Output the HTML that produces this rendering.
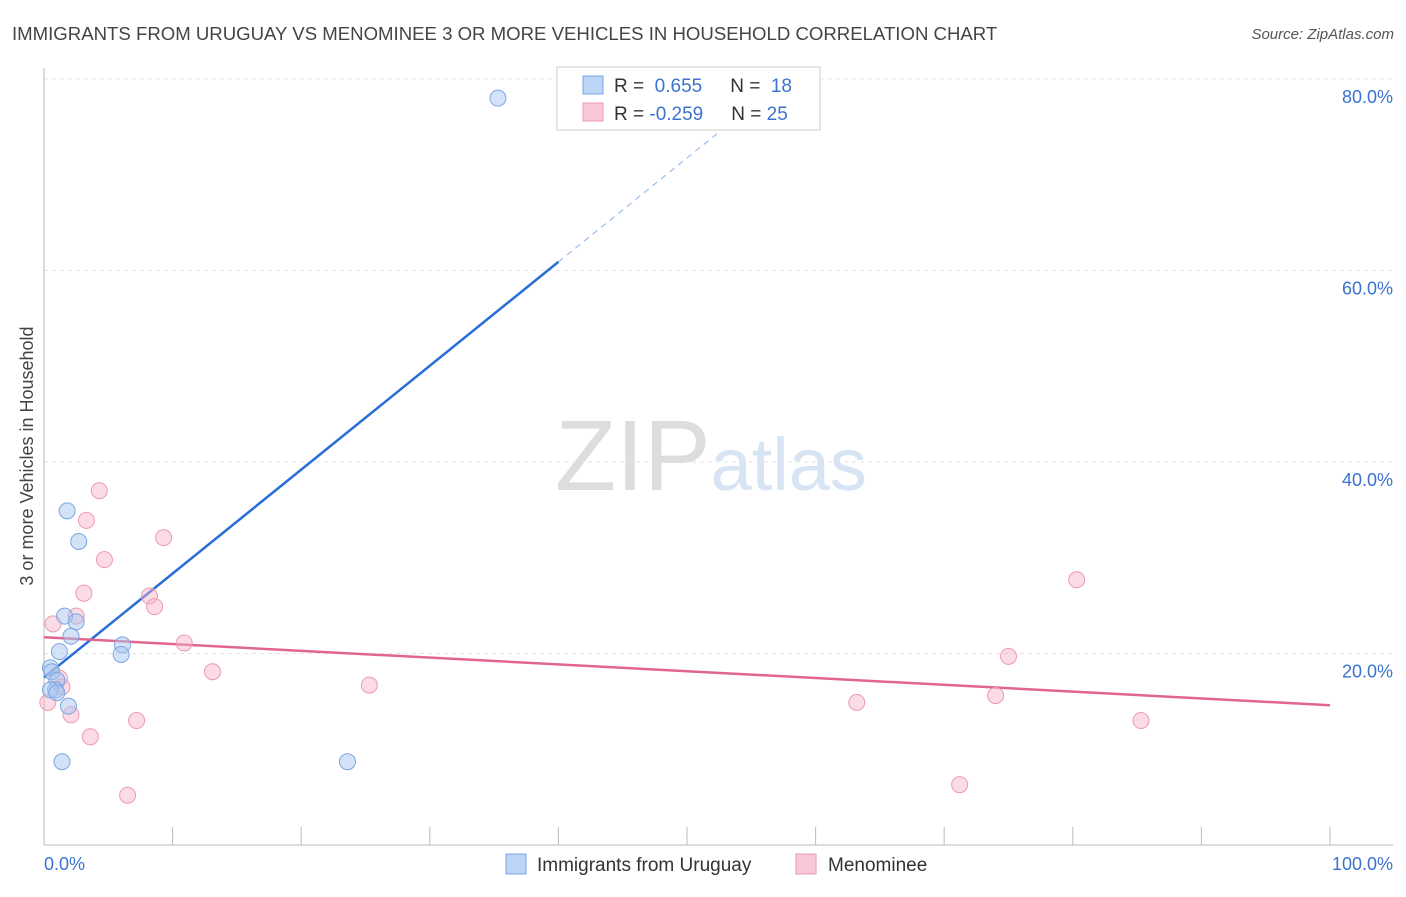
<!DOCTYPE html>
<html><head><meta charset="utf-8"><style>
body{margin:0;background:#fff;font-family:"Liberation Sans",sans-serif;}
svg text{font-family:"Liberation Sans",sans-serif;}
</style></head><body>
<svg id="chart" width="1406" height="892" xmlns="http://www.w3.org/2000/svg">
<text x="12" y="40" font-size="18.6" fill="#444">IMMIGRANTS FROM URUGUAY VS MENOMINEE 3 OR MORE VEHICLES IN HOUSEHOLD CORRELATION CHART</text>
<text x="1394" y="39" font-size="15" fill="#555" text-anchor="end" font-style="italic">Source: ZipAtlas.com</text>
<text x="555" y="490" font-size="100" fill="#ddd" font-family="Liberation Serif"><tspan fill="#ddd">ZIP</tspan><tspan fill="#d7e4f4" font-family="Liberation Sans" font-size="74">atlas</tspan></text>
<text transform="translate(33,456) rotate(-90)" font-size="18" fill="#444" text-anchor="middle">3 or more Vehicles in Household</text>
<g id="grid"></g><g id="axes"></g><g id="lines"></g><g id="points"></g>
<g>
<rect x="557" y="67" width="263" height="63" fill="#fff" stroke="#ccc"/>
<rect x="583" y="76" width="20" height="18" fill="#bcd4f5" stroke="#7aa6e4"/>
<text x="614" y="92" font-size="19" fill="#333">R = <tspan fill="#3b73d0">&#160;0.655</tspan><tspan dx="28" fill="#333">N = </tspan><tspan fill="#3b73d0">&#160;18</tspan></text>
<rect x="583" y="103" width="20" height="18" fill="#f9c8d6" stroke="#ec9ab2"/>
<text x="614" y="120" font-size="19" fill="#333">R = <tspan fill="#3b73d0">-0.259</tspan><tspan dx="28" fill="#333">N = </tspan><tspan fill="#3b73d0">25</tspan></text>
</g>
<g>
<rect x="506" y="854" width="20" height="20" fill="#bcd4f5" stroke="#7aa6e4"/>
<text x="537" y="871" font-size="19" fill="#333">Immigrants from Uruguay</text>
<rect x="796" y="854" width="20" height="20" fill="#f9c8d6" stroke="#ec9ab2"/>
<text x="828" y="871" font-size="19" fill="#333">Menominee</text>
</g>
</svg>
<script>
const yTicks=[20,40,60,80];
const xTickLabels=["0.0%","100.0%"];
const blueX=[35.3,1.8,2.7,1.6,2.5,2.1,1.2,6.1,6.0,0.5,0.6,1.0,0.9,0.5,1.0,1.9,1.4,23.6];
const blueY=[78.0,34.9,31.7,23.9,23.3,21.8,20.2,20.9,19.9,18.5,18.1,17.2,16.2,16.2,15.9,14.5,8.7,8.7];
const pinkX=[0.7,0.3,4.3,3.3,4.7,3.1,2.5,1.2,1.4,2.1,3.6,6.5,7.2,9.3,8.2,8.6,10.9,13.1,25.3,63.2,74.0,75.0,80.3,85.3,71.2];
const pinkY=[23.1,14.9,37.0,33.9,29.8,26.3,23.9,17.4,16.5,13.6,11.3,5.2,13.0,32.1,26.0,24.9,21.1,18.1,16.7,14.9,15.6,19.7,27.7,13.0,6.3];
const blueTrend=[17.5,1.085];
const pinkTrend=[21.7,-0.071];
const NS="http://www.w3.org/2000/svg";
const sx=v=>44+v*12.86, sy=v=>845-v*9.575;
function mk(p,tag,a){const e=document.createElementNS(NS,tag);for(const k in a)e.setAttribute(k,a[k]);document.getElementById(p).appendChild(e);return e;}
yTicks.forEach(t=>{
 const g=mk('grid','line',{x1:44,x2:1393,y1:sy(t),y2:sy(t),stroke:'#e3e3e3','stroke-dasharray':'4,4'});
 
 
 const l=mk('axes','text',{x:1393,y:sy(t)+24,'font-size':18,fill:'#3b73d0','text-anchor':'end'});
 l.textContent=t.toFixed(1)+'%';
 
 
});
const ax=mk('axes','line',{x1:44,x2:1393,y1:845,y2:845,stroke:'#bbb'});


const ay=mk('axes','line',{x1:44,x2:44,y1:68,y2:845,stroke:'#bbb'});


for(let i=0;i<=10;i++){const t=mk('axes','line',{x1:sx(i*10),x2:sx(i*10),y1:827,y2:845,stroke:'#bbb'});
 
 }
const xl0=mk('axes','text',{x:44,y:870,'font-size':18,fill:'#3b73d0'});xl0.textContent=xTickLabels[0];


const xl1=mk('axes','text',{x:1393,y:870,'font-size':18,fill:'#3b73d0','text-anchor':'end'});xl1.textContent=xTickLabels[1];


const bl=mk('lines','line',{x1:sx(0),y1:sy(blueTrend[0]),x2:sx(40),y2:sy(blueTrend[0]+40*blueTrend[1]),stroke:'#2a6dd6','stroke-width':2.5});


const bd=mk('lines','line',{x1:sx(40),y1:sy(blueTrend[0]+40*blueTrend[1]),x2:sx(54),y2:sy(blueTrend[0]+54*blueTrend[1]),stroke:'#9bbbe8','stroke-width':1.2,'stroke-dasharray':'6,5'});


const pl=mk('lines','line',{x1:sx(0),y1:sy(pinkTrend[0]),x2:sx(100),y2:sy(pinkTrend[0]+100*pinkTrend[1]),stroke:'#e0668f','stroke-width':2.5});


pinkX.forEach((x,i)=>{const c=mk('points','circle',{cx:sx(x),cy:sy(pinkY[i]),r:8,fill:'rgba(246,178,200,0.45)',stroke:'#ec9ab2','stroke-width':1});
 
 });
blueX.forEach((x,i)=>{const c=mk('points','circle',{cx:sx(x),cy:sy(blueY[i]),r:8,fill:'rgba(170,198,240,0.5)',stroke:'#7aa6e4','stroke-width':1});
 
 });
</script>
</body></html>
